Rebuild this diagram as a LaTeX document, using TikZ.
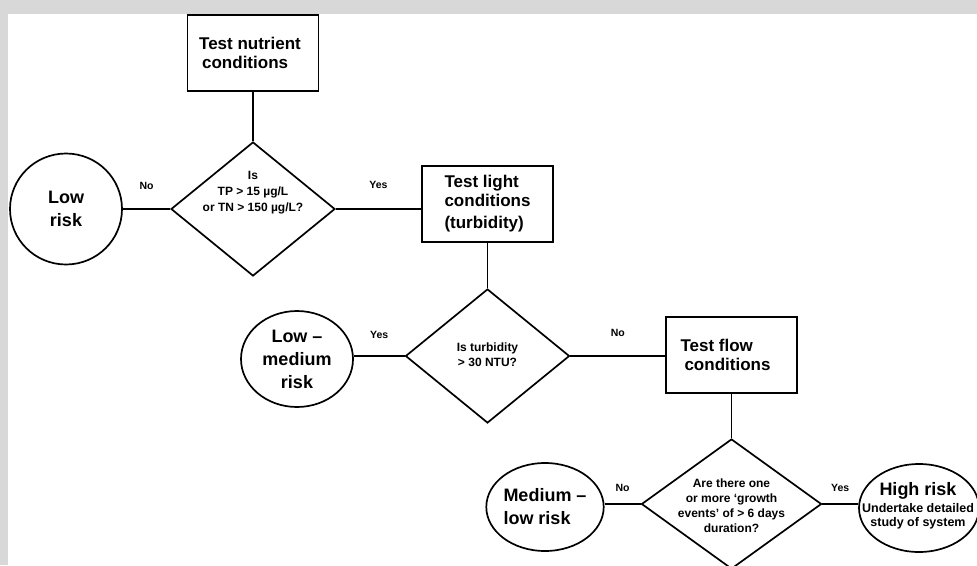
\documentclass[tikz,border=0pt]{standalone}
\usepackage{fontspec}
\setmainfont{Liberation Sans}
\usetikzlibrary{shapes.geometric}
\definecolor{bggray}{RGB}{216,216,216}
\begin{document}
\begin{tikzpicture}[x=1pt,y=-1pt,
  line width=1.7pt,
  box/.style={draw, rectangle, minimum width=131pt, minimum height=76pt, align=left, inner sep=0pt, font=\fontsize{17}{19}\selectfont\bfseries},
  oval/.style={draw, ellipse, inner sep=0pt, font=\fontsize{18}{23}\selectfont\bfseries},
  dia/.style={draw, diamond, inner sep=0pt},
  qtext/.style={align=center, inner sep=0pt, font=\fontsize{12}{15}\selectfont\bfseries},
  lbl/.style={inner sep=0pt, font=\fontsize{10.5}{12}\selectfont\bfseries},
  conn/.style={draw, line width=1.7pt}
]
\clip (0,0) rectangle (977,565);
\fill[bggray] (0,0) rectangle (977,565);
\fill[white] (8,14) rectangle (977,565);

% nodes
\node[box] (b1) at (253,53) {Test nutrient\hspace*{6pt}\\\hspace*{3pt}conditions};
\node[dia, minimum width=164pt, minimum height=134pt] (d1) at (253,209) {};
\node[qtext, font=\fontsize{12}{16}\selectfont\bfseries] (q1) at (253,193) {Is\\TP > 15 µg/L\\or TN > 150 µg/L?};
\node[oval, align=center, minimum width=112pt, minimum height=111pt] (e1) at (66,209) {Low\\risk};

\node[box] (b2) at (487.5,204) {Test light\\conditions\hspace*{15pt}\\[3pt](turbidity)};
\node[dia, minimum width=164pt, minimum height=134pt] (d2) at (487.5,356) {};
\node[qtext] (q2) at (487.5,355) {Is turbidity\\> 30 NTU?};
\node[oval, align=center, minimum width=112pt, minimum height=96pt] (e2) at (297,359) {Low –\\medium\\risk};

\node[box] (b3) at (731.5,355) {Test flow\\\hspace*{4pt}conditions\hspace*{12pt}};
\node[dia, minimum width=180pt, minimum height=130pt] (d3) at (731.5,504) {};
\node[qtext] (q3) at (731.5,506) {Are there one\\or more ‘growth\\events’ of > 6 days\\duration?};
\node[oval, align=left, minimum width=116pt, minimum height=88pt] (e3) at (545,507) {Medium –\\low risk};
\node[draw, ellipse, inner sep=0pt, minimum width=120pt, minimum height=88pt] (e4) at (919,508) {};
\node[align=center, inner sep=0pt] (t4) at (918,506) {{\fontsize{18}{20}\selectfont\bfseries High risk}\\[3pt]{\fontsize{12.5}{17}\selectfont\bfseries Undertake detailed}\\[2pt]{\fontsize{12.5}{17}\selectfont\bfseries study of system}};

% connectors
\draw[conn] (b1.south) -- (d1.north);
\draw[conn] (d1.west) -- node[lbl, midway, yshift=23pt] (l1) {No} (d1.west -| e1.east);
\draw[conn] (d1.east) -- node[lbl, midway, yshift=24pt] (l2) {Yes} (d1.east -| b2.west);
\draw[conn] (b2.south) -- (d2.north);
\draw[conn] (d2.west) -- node[lbl, midway, yshift=21pt] (l3) {Yes} (d2.west -| e2.east);
\draw[conn] (d2.east) -- node[lbl, midway, yshift=23pt] (l4) {No} (d2.east -| b3.west);
\draw[conn] (b3.south) -- (d3.north);
\draw[conn] (d3.west) -- node[lbl, midway, yshift=16pt] (l5) {No} (d3.west -| e3.east);
\draw[conn] (d3.east) -- node[lbl, midway, yshift=16pt] (l6) {Yes} (d3.east -| e4.west);
\end{tikzpicture}
\end{document}
